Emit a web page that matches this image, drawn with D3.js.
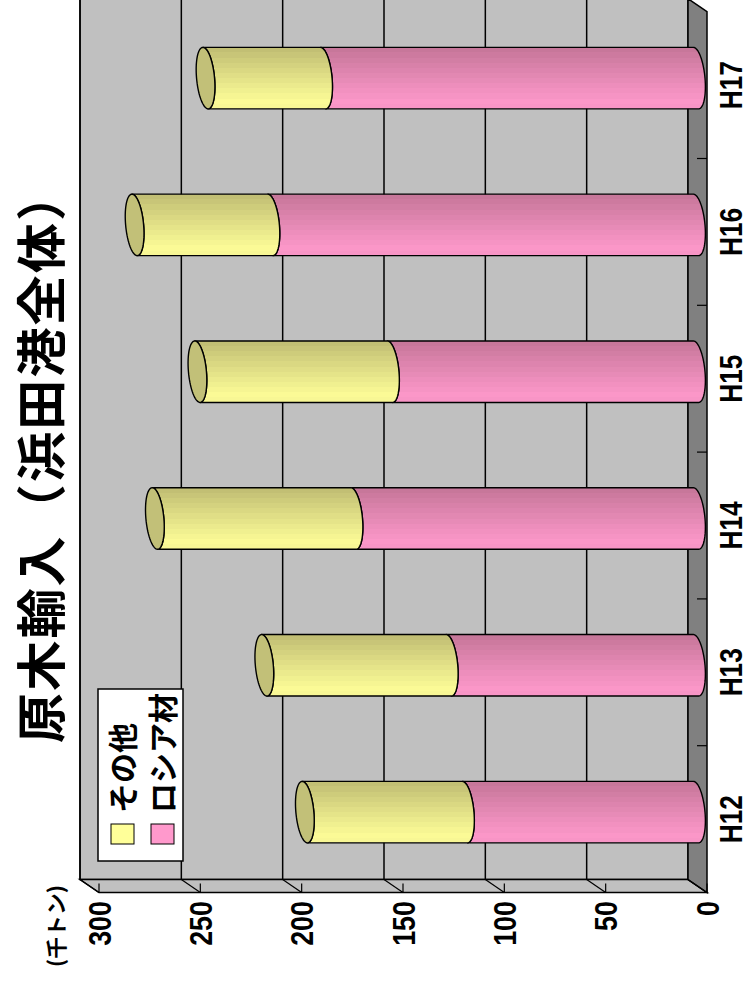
<!DOCTYPE html>
<html><head><meta charset="utf-8">
<script src="https://cdn.jsdelivr.net/npm/d3@7"></script>
<style>body{margin:0;background:#fff}svg{display:block}</style>
</head><body>
<script>
const categories = ["H12","H13","H14","H15","H16","H17"];
const russia = [114,122,169,151,210,184];   // ロシア材
const other  = [79,91,98,95,67,58];         // その他
const seriesNames = ["その他","ロシア材"];
const valueTicks = [0,50,100,150,200,250,300];
const titleText = "原木輸入（浜田港全体）";
const unitText = "(千トン)";

const W = 749, H = 984;
const svg = d3.select("body").append("svg").attr("width", W).attr("height", H);
const defs = svg.append("defs");
// Chart drawn in an unrotated frame (u across 984, v down 749), then rotated -90deg
const g = svg.append("g").attr("transform", `translate(0,${H}) rotate(-90)`);

const back = {u0: 104.5, u1: 985.3, v0: 80, v1: 688};
const depth = {du: -13, dv: 19};
const barOff = {du: -6, dv: 8};

const yScale = d3.scaleLinear().domain([0, 300]).range([back.v1, back.v0]);
const xScale = d3.scaleBand().domain(categories).range([back.u0, back.u1]);
const bw = xScale.bandwidth();

const JP = "'Noto Sans CJK JP','Noto Sans CJK SC',sans-serif";
const LAT = "'Liberation Sans',Arial,sans-serif";

function bandGrad(id, light, dark) {
  const gr = defs.append("linearGradient").attr("id", id)
    .attr("x1", 0).attr("x2", 1).attr("y1", 0).attr("y2", 0);
  const n = 12;
  const ip = d3.interpolateRgb(light, dark);
  for (let i = 0; i < n; i++) {
    let t = i / (n - 1);
    let c = ip(Math.pow(t, 1.1));
    if (i === 0) c = ip(0.12);
    gr.append("stop").attr("offset", i / n).attr("stop-color", c);
    gr.append("stop").attr("offset", (i + 1) / n).attr("stop-color", c);
  }
}
bandGrad("gY", "#ffff99", "#c2bf74");
bandGrad("gP", "#ff99cc", "#c7779a");

// back wall
g.append("rect").attr("x", back.u0).attr("y", back.v0)
  .attr("width", back.u1 - back.u0).attr("height", back.v1 - back.v0)
  .attr("fill", "#c0c0c0").attr("stroke", "#000").attr("stroke-width", 1.5);
// side wall
g.append("path").attr("d", `M${back.u0},${back.v0}L${back.u0},${back.v1}L${back.u0+depth.du},${back.v1+depth.dv}L${back.u0+depth.du},${back.v0+depth.dv}Z`)
  .attr("fill", "#c0c0c0").attr("stroke", "#000").attr("stroke-width", 1.5);
// floor
g.append("path").attr("d", `M${back.u0},${back.v1}L${back.u1},${back.v1}L${back.u1+depth.du},${back.v1+depth.dv}L${back.u0+depth.du},${back.v1+depth.dv}Z`)
  .attr("fill", "#808080").attr("stroke", "#000").attr("stroke-width", 1.5);

// gridlines, ticks, value labels
valueTicks.forEach(t => {
  const v = yScale(t);
  if (t > 0) {
    g.append("line").attr("x1", back.u0).attr("x2", back.u1).attr("y1", v).attr("y2", v)
      .attr("stroke", "#000").attr("stroke-width", 1.5);
  }
  g.append("line").attr("x1", back.u0).attr("y1", v).attr("x2", back.u0 + depth.du).attr("y2", v + depth.dv)
    .attr("stroke", "#000").attr("stroke-width", 1.2);
  g.append("line").attr("x1", back.u0 + depth.du).attr("y1", v + depth.dv)
    .attr("x2", back.u0 + depth.du + 9).attr("y2", v + depth.dv)
    .attr("stroke", "#000").attr("stroke-width", 1.2);
  g.append("g").attr("transform", `translate(83,${v + depth.dv}) scale(0.84,1)`)
    .append("text").attr("text-anchor", "end").attr("dy", "0.36em")
    .attr("font-family", LAT).attr("font-weight", "bold").attr("font-size", 32)
    .text(t);
});

// category ticks on floor front edge + labels
categories.forEach((c, i) => {
  const u = xScale(c) + depth.du;
  if (i > 0) g.append("line").attr("x1", u).attr("x2", u)
    .attr("y1", back.v1 + depth.dv).attr("y2", back.v1 + depth.dv - 10)
    .attr("stroke", "#000").attr("stroke-width", 1.2);
  g.append("g").attr("transform", `translate(${xScale(c) + bw / 2 + depth.du},${742}) scale(0.82,1)`)
    .append("text").attr("text-anchor", "middle")
    .attr("font-family", LAT).attr("font-weight", "bold").attr("font-size", 32)
    .text(c);
});

// cylinders
const a = 30.75, b = 9, k = -0.086;
function pt(c, y, t) { return [c + a * Math.cos(t), y + b * Math.sin(t) + k * a * Math.cos(t)]; }
function arc(c, y, t0, t1, n = 36) {
  const p = [];
  for (let i = 0; i <= n; i++) p.push(pt(c, y, t0 + (t1 - t0) * i / n));
  return p;
}
function bodyPath(c, yLow, yHigh) {
  const pts = [];
  pts.push(pt(c, yHigh, Math.PI));
  arc(c, yLow, Math.PI, 0).forEach(p => pts.push(p));
  pts.push(pt(c, yHigh, 0));
  arc(c, yHigh, 0, Math.PI).forEach(p => pts.push(p));
  return "M" + pts.map(p => p[0].toFixed(2) + "," + p[1].toFixed(2)).join("L") + "Z";
}
function ellipsePath(c, y) {
  const pts = arc(c, y, 0, 2 * Math.PI, 72);
  return "M" + pts.map(p => p[0].toFixed(2) + "," + p[1].toFixed(2)).join("L") + "Z";
}
const yb = v => yScale(v) + barOff.dv;

categories.forEach((cat, i) => {
  const c = xScale(cat) + bw / 2 + barOff.du;
  const r = russia[i], tot = russia[i] + other[i];
  g.append("path").attr("d", bodyPath(c, yb(0), yb(r)))
    .attr("fill", "url(#gP)").attr("stroke", "#000").attr("stroke-width", 1.4).attr("stroke-linejoin", "round");
  g.append("path").attr("d", bodyPath(c, yb(r), yb(tot)))
    .attr("fill", "url(#gY)").attr("stroke", "#000").attr("stroke-width", 1.4).attr("stroke-linejoin", "round");
  g.append("path").attr("d", ellipsePath(c, yb(tot)))
    .attr("fill", "#c2c078").attr("stroke", "#000").attr("stroke-width", 1.4);
});

// legend
const lg = g.append("g");
lg.append("rect").attr("x", 123).attr("y", 98).attr("width", 172).attr("height", 85)
  .attr("fill", "#fff").attr("stroke", "#000").attr("stroke-width", 1.5);
const legColors = ["#ffff99", "#ff99cc"];
seriesNames.forEach((s, i) => {
  const vy = 111 + i * 40;
  lg.append("rect").attr("x", 140).attr("y", vy).attr("width", 20).attr("height", 23)
    .attr("fill", legColors[i]).attr("stroke", "#000").attr("stroke-width", 1);
  lg.append("text").attr("x", 171).attr("y", vy + 23)
    .attr("font-family", JP).attr("font-weight", "bold").attr("font-size", 30)
    .text(s);
});

// title
g.append("text").attr("x", 527).attr("y", 59.5).attr("text-anchor", "middle")
  .attr("font-family", JP).attr("font-weight", "bold").attr("font-size", 50)
  .attr("textLength", 572).attr("lengthAdjust", "spacing")
  .text(titleText);

// unit label
g.append("text").attr("x", 17).attr("y", 64)
  .attr("font-family", JP).attr("font-weight", "bold").attr("font-size", 21)
  .attr("textLength", 82).attr("lengthAdjust", "spacingAndGlyphs")
  .text(unitText);
</script>
</body></html>
